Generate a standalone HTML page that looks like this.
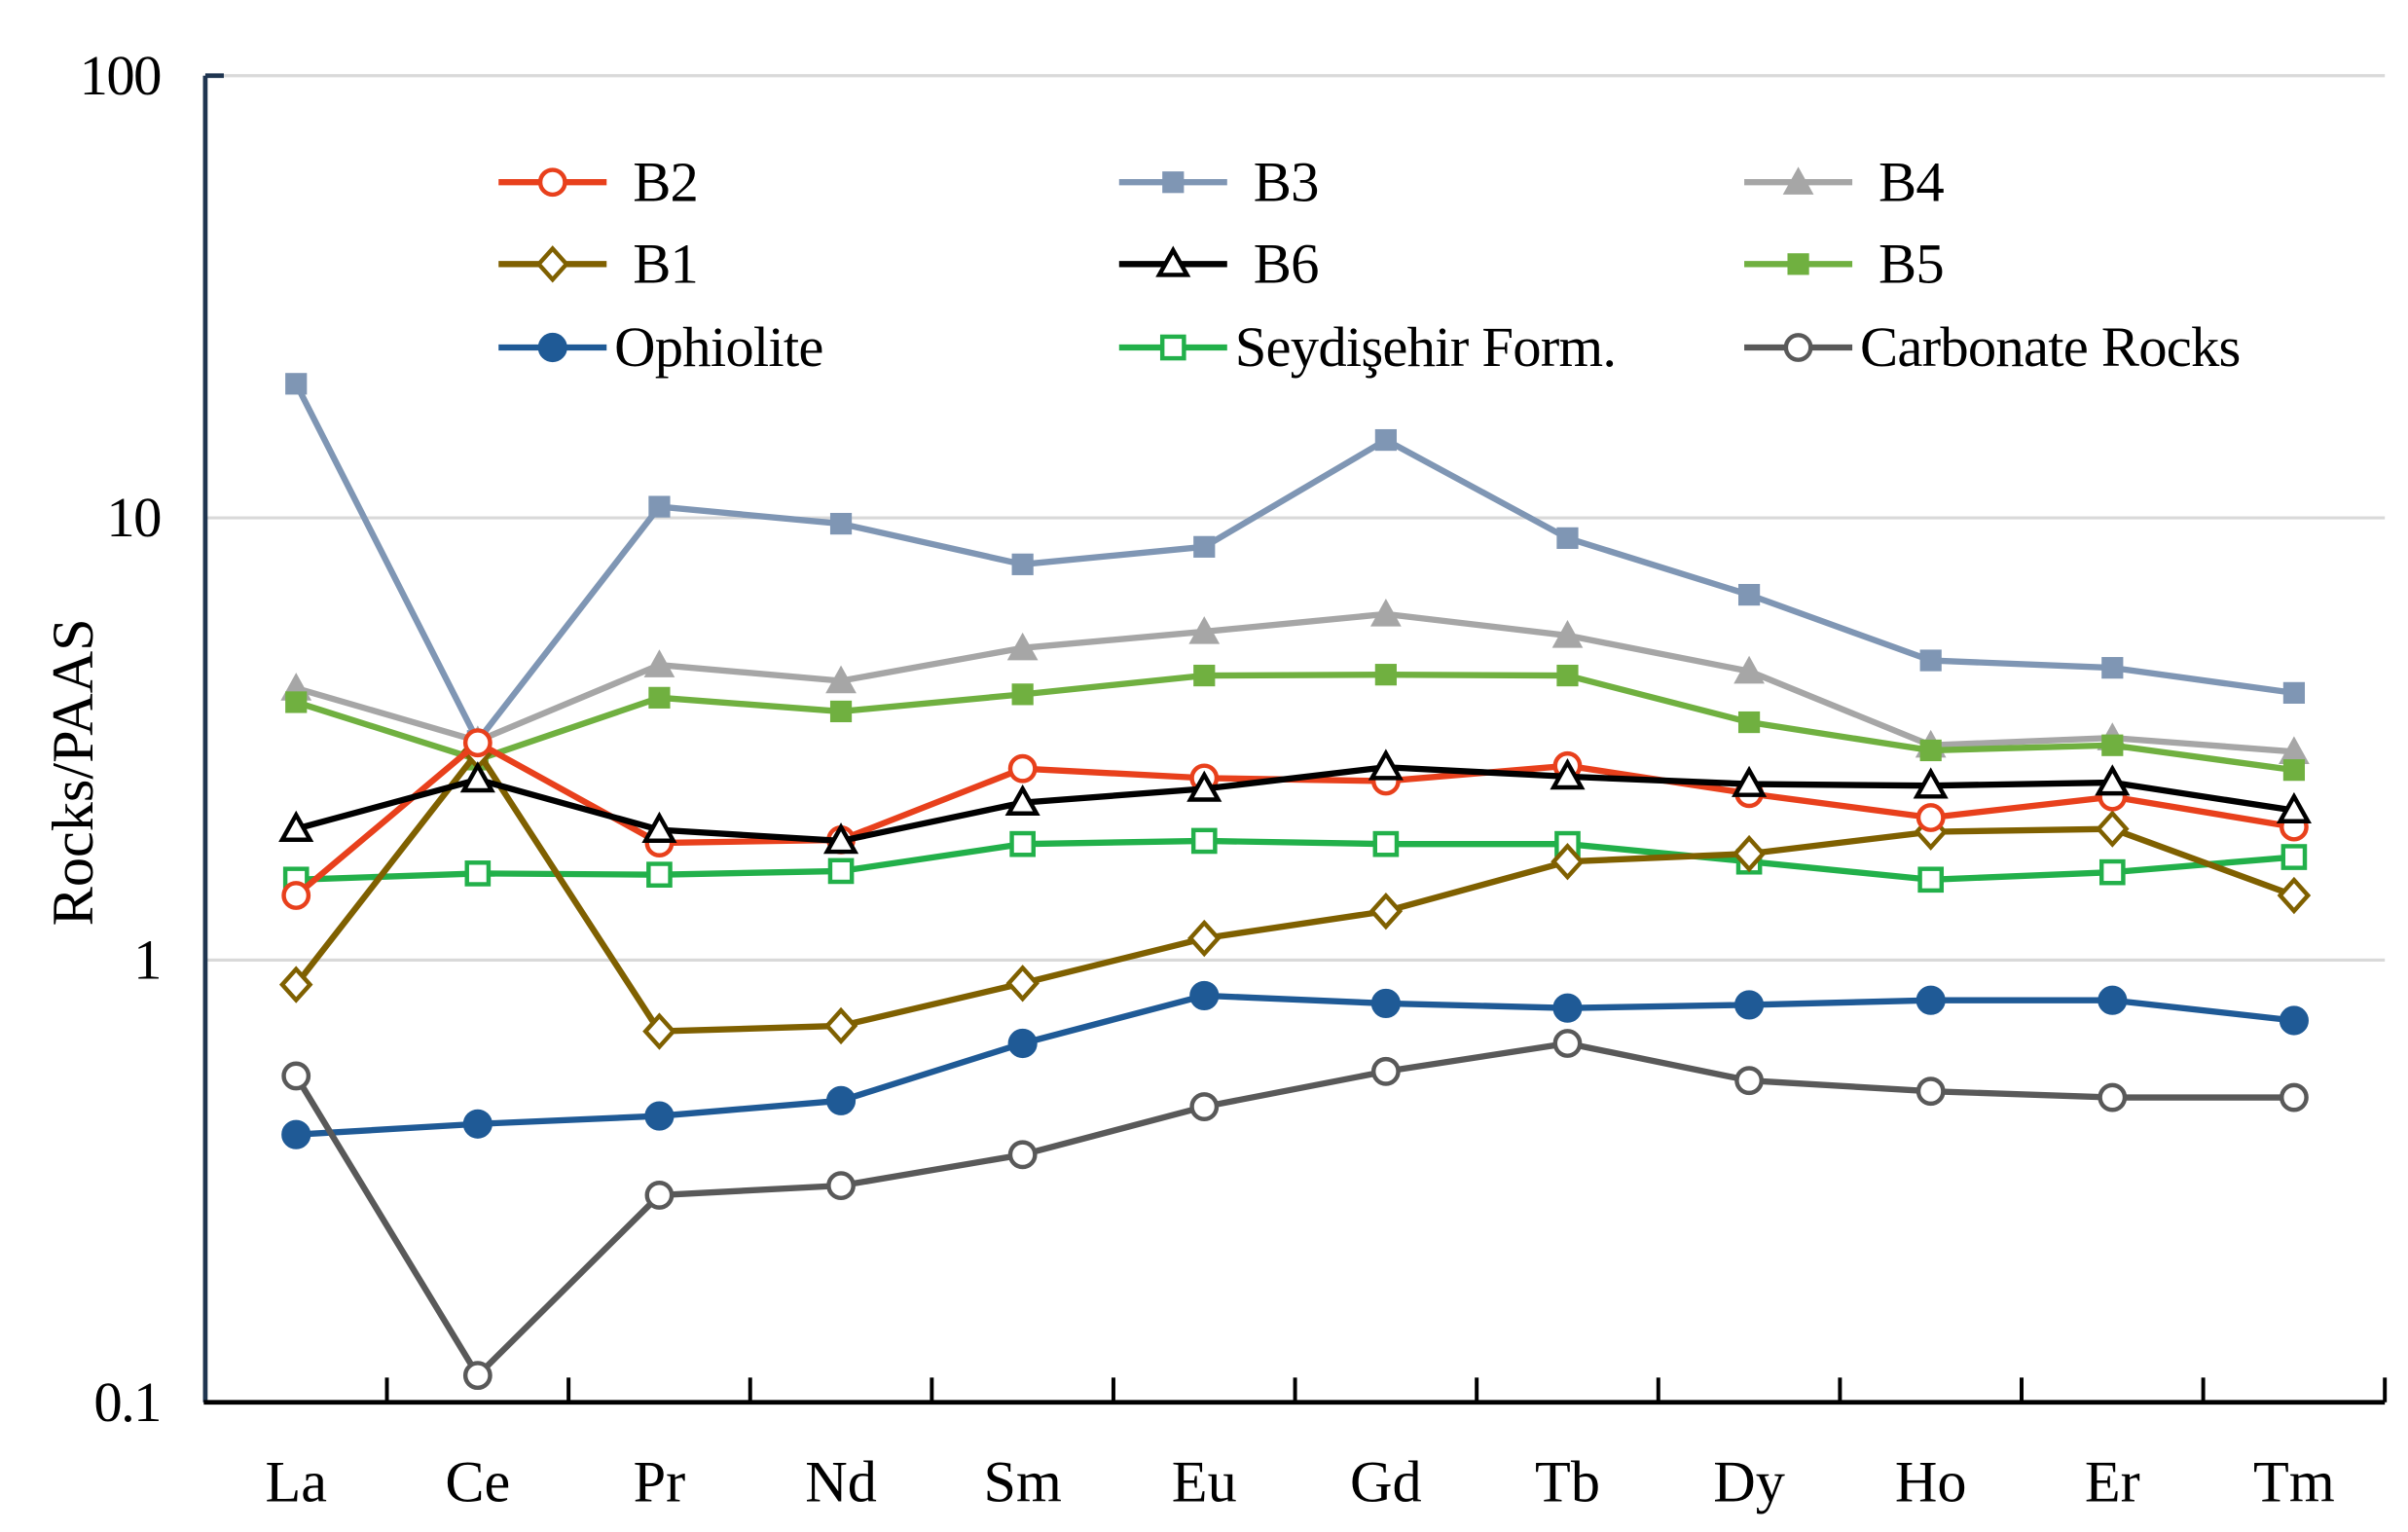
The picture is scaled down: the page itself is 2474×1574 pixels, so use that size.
<!DOCTYPE html>
<html><head><meta charset="utf-8"><style>
html,body{margin:0;padding:0;background:#fff}
svg{display:block}
text{font-family:"Liberation Serif",serif;fill:#000}
</style></head><body>
<svg id="chart" width="2474" height="1574" viewBox="0 0 1560 992" preserveAspectRatio="none" xmlns="http://www.w3.org/2000/svg"></svg>
<script>
const categories=["La","Ce","Pr","Nd","Sm","Eu","Gd","Tb","Dy","Ho","Er","Tm"];
const yTicks=[0.1,1,10,100];
const yTickLabels=["0.1","1","10","100"];
const B2=[1.40,3.1,1.84,1.87,2.71,2.58,2.54,2.75,2.38,2.1,2.34,2.0];
const B3=[20.1,3.13,10.6,9.7,7.85,8.6,15.0,9.0,6.7,4.76,4.58,4.02];
const B4=[4.12,3.13,4.65,4.28,5.08,5.53,6.06,5.42,4.5,3.06,3.18,2.96];
const B1=[0.88,2.96,0.69,0.71,0.886,1.12,1.29,1.67,1.74,1.95,1.98,1.40];
const B6=[1.98,2.56,1.97,1.86,2.27,2.44,2.73,2.6,2.5,2.48,2.52,2.18];
const B5=[3.83,2.84,3.92,3.65,3.99,4.4,4.42,4.4,3.45,2.98,3.06,2.69];
const Ophiolite=[0.403,0.426,0.444,0.481,0.648,0.831,0.798,0.779,0.792,0.811,0.811,0.73];
const Seydisehir=[1.52,1.57,1.56,1.59,1.83,1.86,1.83,1.83,1.67,1.52,1.58,1.71];
const Carbonate=[0.547,0.115,0.294,0.309,0.363,0.466,0.56,0.648,0.534,0.505,0.489,0.489];

const NS="http://www.w3.org/2000/svg";
const svg=document.getElementById("chart");
const L=133,R=1545,T=49,B=908;
const X=i=>L+(i+0.5)*(R-L)/categories.length;
const Y=v=>B-(Math.log10(v)+1)*(B-T)/3;
function mk(tag,attrs,parent){const e=document.createElementNS(NS,tag);for(const k in attrs)e.setAttribute(k,attrs[k]);(parent||svg).appendChild(e);return e;}

yTicks.forEach((v,i)=>{
  if(i>0){const g=mk("line",{x1:L,x2:R,y1:Y(v),y2:Y(v),stroke:"#d9d9d9","stroke-width":2});
  
  }
  const t=mk("text",{x:104,y:Y(v)+12,"text-anchor":"end","font-size":37,"letter-spacing":-1});
  t.textContent=yTickLabels[i];
  
  
});
const ya=mk("line",{x1:L,x2:L,y1:T,y2:B,stroke:"#1f3550","stroke-width":3});


const yt=mk("line",{x1:L,x2:L+12,y1:T,y2:T,stroke:"#1f3550","stroke-width":3});


const xa=mk("line",{x1:L-1,x2:R,y1:B,y2:B,stroke:"#000","stroke-width":3});


for(let i=1;i<=categories.length;i++){
  const xx=L+i*(R-L)/categories.length;
  const tk=mk("line",{x1:xx,x2:xx,y1:B,y2:B-16,stroke:"#000","stroke-width":2.5});
  
  
}
categories.forEach((c,i)=>{
  const t=mk("text",{x:X(i),y:972,"text-anchor":"middle","font-size":38});
  t.textContent=c;
  
  
});
const ttl=mk("text",{x:0,y:0,"text-anchor":"middle","font-size":38,transform:"translate(60,500) rotate(-90)"});
ttl.textContent="Rocks/PAAS";



function marker(g,type,color,x,y){
  let e;
  if(type==="circleOpen")e=mk("circle",{cx:x,cy:y,r:8,fill:"#fff",stroke:color,"stroke-width":2.8},g);
  else if(type==="circleFill")e=mk("circle",{cx:x,cy:y,r:9,fill:color,stroke:color,"stroke-width":1},g);
  else if(type==="squareFill")e=mk("rect",{x:x-7,y:y-7,width:14,height:14,fill:color},g);
  else if(type==="squareOpen")e=mk("rect",{x:x-7,y:y-7,width:14,height:14,fill:"#fff",stroke:color,"stroke-width":2.8},g);
  else if(type==="triFill")e=mk("polygon",{points:`${x},${y-10} ${x+10},${y+8} ${x-10},${y+8}`,fill:color},g);
  else if(type==="triOpen")e=mk("polygon",{points:`${x},${y-9} ${x+9},${y+7} ${x-9},${y+7}`,fill:"#fff",stroke:color,"stroke-width":2.8},g);
  else if(type==="diamondOpen")e=mk("polygon",{points:`${x},${y-10} ${x+9},${y} ${x},${y+10} ${x-9},${y}`,fill:"#fff",stroke:color,"stroke-width":2.8},g);
  
  
}
const series=[
 {name:"B3",data:B3,color:"#7f96b4",m:"squareFill",lx:725,ly:118},
 {name:"B4",data:B4,color:"#a6a6a6",m:"triFill",lx:1130,ly:118},
 {name:"B5",data:B5,color:"#70b040",m:"squareFill",lx:1130,ly:171},
 {name:"Seydişehir Form.",data:Seydisehir,color:"#22b04a",m:"squareOpen",lx:725,ly:225},
 {name:"B1",data:B1,color:"#7f6000",m:"diamondOpen",lx:323,ly:171},
 {name:"Ophiolite",data:Ophiolite,color:"#1f5a96",m:"circleFill",lx:323,ly:225},
 {name:"Carbonate Rocks",data:Carbonate,color:"#595959",m:"circleOpen",lx:1130,ly:225},
 {name:"B2",data:B2,color:"#e8401c",m:"circleOpen",lx:323,ly:118},
 {name:"B6",data:B6,color:"#000000",m:"triOpen",lx:725,ly:171}
];
series.forEach(s=>{
  const g=mk("g",{});
  
  
  const pl=mk("polyline",{points:s.data.map((v,i)=>X(i)+","+Y(v)).join(" "),fill:"none",stroke:s.color,"stroke-width":4,"stroke-linejoin":"round"},g);
  
  
  s.data.forEach((v,i)=>marker(g,s.m,s.color,X(i),Y(v)));
  const lg=mk("g",{});
  
  
  mk("line",{x1:s.lx,x2:s.lx+70,y1:s.ly,y2:s.ly,stroke:s.color,"stroke-width":4},lg);
  marker(lg,s.m,s.color,s.lx+35,s.ly);
  const t=mk("text",{x:s.lx+(s.name.length>3?75:87),y:s.ly+12,"font-size":37,"letter-spacing":-0.5},lg);
  t.textContent=s.name;
});
</script>
</body></html>
